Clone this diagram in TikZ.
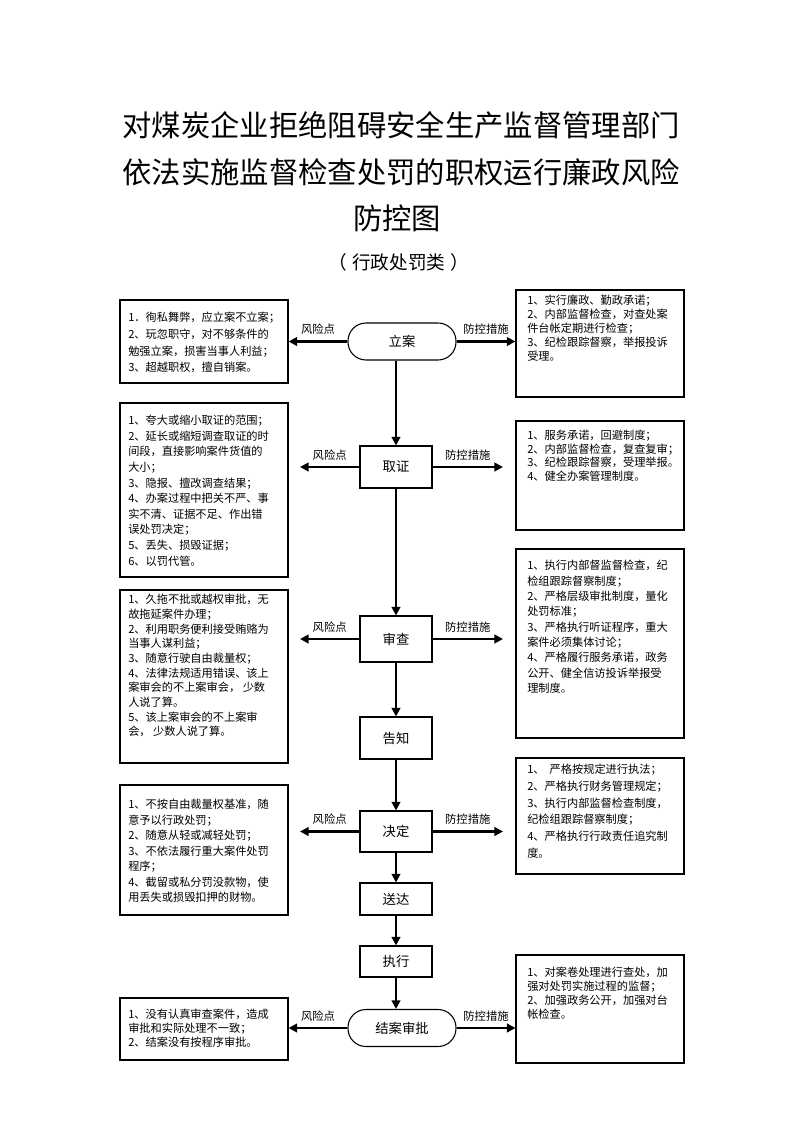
\documentclass[tikz,border=0pt]{standalone}
\usepackage{fontspec}
\setmainfont{Noto Sans CJK SC}
\usetikzlibrary{arrows.meta,calc}
\begin{document}
\begin{tikzpicture}[x=0.75pt,y=-0.75pt,
 arr/.style={line width=1.6pt,-{Triangle[length=6.5pt,width=6.5pt]}},
 frame/.style={draw,line width=0.8pt,inner sep=0pt},
 stepbox/.style={draw,line width=0.8pt,minimum width=54pt,inner sep=0pt,font=\fontsize{10}{12}\selectfont},
 pill/.style={draw,line width=0.8pt,minimum width=81pt,minimum height=27.75pt,rounded corners=13.5pt,inner sep=0pt,font=\fontsize{10}{12}\selectfont},
 lbl/.style={midway,above=4.5pt,inner sep=0pt,font=\fontsize{8.5}{10}\selectfont},
 txt/.style={anchor=north west,inner sep=0pt,align=left},
 ttl/.style={inner sep=0pt,font=\fontsize{22}{26}\selectfont}
]
\useasboundingbox (0,0) rectangle (794,1123);

% title
\node[ttl] (t1) at (401,125) {对煤炭企业拒绝阻碍安全生产监督管理部门};
\node[ttl] (t2) at (401,172) {依法实施监督检查处罚的职权运行廉政风险};
\node[ttl] (t3) at (397,218) {防控图};
\node[inner sep=0pt,font=\fontsize{14}{16}\selectfont] (t4) at (399,262) {（\hspace{4pt}行政处罚类\hspace{4pt}）};

% center flow
\node[pill] (la) at (402,341.5) {立案};
\node[stepbox,minimum height=31.5pt] (qz) at (396,467) {取证};
\node[stepbox,minimum height=34.5pt] (sc) at (396,639) {审查};
\node[stepbox,minimum height=31.5pt] (gz) at (396,738) {告知};
\node[stepbox,minimum height=30.75pt] (jd) at (396,831.5) {决定};
\node[stepbox,minimum height=24pt] (sd) at (396,899) {送达};
\node[stepbox,minimum height=23.25pt] (zx) at (396,961.5) {执行};
\node[pill] (ja) at (402,1028) {结案审批};

% left boxes
\node[frame,minimum width=126pt,minimum height=62.25pt] (L1) at (204,341.5) {};
\node[frame,minimum width=126pt,minimum height=130.5pt] (L2) at (204,490) {};
\node[frame,minimum width=126pt,minimum height=129.75pt] (L3) at (204,676.5) {};
\node[frame,minimum width=126pt,minimum height=97.5pt] (L4) at (204,850) {};
\node[frame,minimum width=126pt,minimum height=46.5pt] (L5) at (204,1029) {};
% right boxes
\node[frame,minimum width=126pt,minimum height=80.25pt] (R1) at (600,343.5) {};
\node[frame,minimum width=126pt,minimum height=81.75pt] (R2) at (600,475.5) {};
\node[frame,minimum width=126pt,minimum height=141.75pt] (R3) at (600,643.5) {};
\node[frame,minimum width=126pt,minimum height=87pt] (R4) at (600,816) {};
\node[frame,minimum width=126pt,minimum height=81pt] (R5) at (600,1009) {};

% texts
\node[txt,font=\fontsize{8.4}{12.5}\selectfont] (L1t) at (128,312) {1．徇私舞弊，应立案不立案；\\2、玩忽职守，对不够条件的\\勉强立案，损害当事人利益；\\3、超越职权，擅自销案。};
\node[txt,font=\fontsize{8.4}{10.5}\selectfont] (R1t) at (527,295) {1、实行廉政、勤政承诺；\\2、内部监督检查，对查处案\\件台帐定期进行检查；\\3、纪检跟踪督察，举报投诉\\受理。};
\node[txt,font=\fontsize{8.4}{11.7}\selectfont] (L2t) at (128,415) {1、夸大或缩小取证的范围；\\2、延长或缩短调查取证的时\\间段，直接影响案件货值的\\大小；\\3、隐报、擅改调查结果；\\4、办案过程中把关不严、事\\实不清、证据不足、作出错\\误处罚决定；\\5、丢失、损毁证据；\\6、以罚代管。};
\node[txt,font=\fontsize{8.4}{10.1}\selectfont] (R2t) at (527,430) {1、服务承诺，回避制度；\\2、内部监督检查，复查复审；\\3、纪检跟踪督察，受理举报。\\4、健全办案管理制度。};
\node[txt,font=\fontsize{8.4}{11}\selectfont] (L3t) at (128,594) {1、久拖不批或越权审批，无\\故拖延案件办理；\\2、利用职务便利接受贿赂为\\当事人谋利益；\\3、随意行驶自由裁量权；\\4、法律法规适用错误、该上\\案审会的不上案审会，\ 少数\\人说了算。\\5、该上案审会的不上案审\\会，\ 少数人说了算。};
\node[txt,font=\fontsize{8.4}{11.5}\selectfont] (R3t) at (527,560) {1、执行内部督监督检查，纪\\检组跟踪督察制度；\\2、严格层级审批制度，量化\\处罚标准；\\3、严格执行听证程序，重大\\案件必须集体讨论；\\4、严格履行服务承诺，政务\\公开、健全信访投诉举报受\\理制度。};
\node[txt,font=\fontsize{8.4}{11.6}\selectfont] (L4t) at (128,799) {1、不按自由裁量权基准，随\\意予以行政处罚；\\2、随意从轻或减轻处罚；\\3、不依法履行重大案件处罚\\程序；\\4、截留或私分罚没款物，使\\用丢失或损毁扣押的财物。};
\node[txt,font=\fontsize{8.4}{12.5}\selectfont] (R4t) at (527,764) {1、\ \ 严格按规定进行执法；\\2、严格执行财务管理规定；\\3、执行内部监督检查制度，\\纪检组跟踪督察制度；\\4、严格执行行政责任追究制\\度。};
\node[txt,font=\fontsize{8.4}{10.5}\selectfont] (L5t) at (128,1009) {1、没有认真审查案件，造成\\审批和实际处理不一致；\\2、结案没有按程序审批。};
\node[txt,font=\fontsize{8.4}{10.5}\selectfont] (R5t) at (527,967) {1、对案卷处理进行查处，加\\强对处罚实施过程的监督；\\2、加强政务公开，加强对台\\帐检查。};

% free ends
\coordinate (qzL) at (300,467);
\coordinate (qzR) at (503,467);
\coordinate (scL) at (300,639);
\coordinate (scR) at (503,639);
\coordinate (jdL) at (300,831.5);
\coordinate (jdR) at (503,831.5);

% vertical flow
\draw[arr] (la.south -| qz.north) -- (qz.north);
\draw[arr] (qz) -- (sc);
\draw[arr] (sc) -- (gz);
\draw[arr] (gz) -- (jd);
\draw[arr] (jd) -- (sd);
\draw[arr] (sd) -- (zx);
\draw[arr] (zx.south) -- (zx.south |- ja.north);

% horizontal
\draw[arr] (la.west) -- node[lbl]{风险点} (la.west -| L1.east);
\draw[arr] (la.east) -- node[lbl]{防控措施} (la.east -| R1.west);
\draw[arr] (qz.west) -- node[lbl]{风险点} (qzL);
\draw[arr] (qz.east) -- node[lbl]{防控措施} (qzR);
\draw[arr] (sc.west) -- node[lbl]{风险点} (scL);
\draw[arr] (sc.east) -- node[lbl]{防控措施} (scR);
\draw[arr] (jd.west) -- node[lbl]{风险点} (jdL);
\draw[arr] (jd.east) -- node[lbl]{防控措施} (jdR);
\draw[arr] (ja.west) -- node[lbl]{风险点} (ja.west -| L5.east);
\draw[arr] (ja.east) -- node[lbl]{防控措施} (ja.east -| R5.west);
\end{tikzpicture}
\end{document}
